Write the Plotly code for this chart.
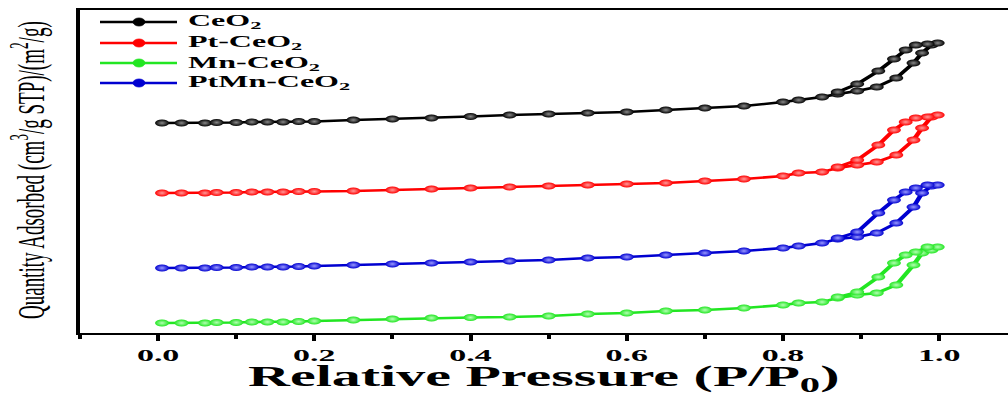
import plotly.graph_objects as go

# Relative pressure points: adsorption branch, then desorption branch
p_ads = [0.005, 0.03, 0.06, 0.075, 0.10, 0.12, 0.14, 0.16, 0.18, 0.20, 0.25, 0.30,
         0.35, 0.40, 0.45, 0.50, 0.55, 0.60, 0.65, 0.70, 0.75, 0.80, 0.82, 0.85,
         0.87, 0.895, 0.92, 0.945, 0.967, 0.978, 0.99, 0.998]
p_des = [0.985, 0.97, 0.957, 0.942, 0.922, 0.895, 0.87]

# Quantity adsorbed (curves stacked with vertical offsets, arbitrary units)
ceo2_ads = [210, 210, 210, 210.5, 210.5, 211, 211, 211, 211.5, 211.5, 213, 214,
            215, 216.5, 218, 219, 220, 221, 223, 225, 227, 231, 233, 236,
            239, 242, 246, 255, 270, 280, 288, 290]
ceo2_des = [289, 288, 283, 274, 262, 249, 241]

pt_ads = [140, 140, 140, 140.5, 140.5, 141, 141, 141, 141.5, 141.5, 142, 143,
          144, 145, 146, 147, 148, 149, 150, 152, 154, 157, 160, 161,
          165, 168, 171, 178, 193, 205, 216, 218]
pt_des = [216, 215, 211, 203, 188, 173, 166]

mn_ads = [10, 10, 10, 10.5, 10.5, 11, 11, 11, 11.5, 12, 13, 14,
          15, 15.5, 16, 17, 19, 20, 22, 23, 25, 28, 30, 31,
          35, 38, 40, 48, 68, 80, 83, 86]
mn_des = [86, 81, 78, 70, 56, 41, 36]

ptmn_ads = [65, 65, 65, 65.5, 65.5, 66, 66, 66, 66.5, 67, 68, 69,
            70, 71, 72, 73, 75, 76, 78, 80, 82, 85, 87, 90,
            94, 96, 100, 110, 126, 140, 147, 148]
ptmn_des = [148, 145, 141, 133, 120, 101, 95]

series = [
    ("CeO<sub>2</sub>", ceo2_ads, ceo2_des, "#000000", "#8a8a8a"),
    ("Pt-CeO<sub>2</sub>", pt_ads, pt_des, "#ff0000", "#ff9a9a"),
    ("Mn-CeO<sub>2</sub>", mn_ads, mn_des, "#22e622", "#b5ffb5"),
    ("PtMn-CeO<sub>2</sub>", ptmn_ads, ptmn_des, "#0000d0", "#9a9aff"),
]

SERIF = "Liberation Serif, Times New Roman, serif"

# Layout geometry (pixels of the un-widened figure)
FIG_W, FIG_H = 504, 394
M_L, M_R, M_T, M_B = 40, 0, 10, 61
PLOT_W = FIG_W - M_L - M_R
PLOT_H = FIG_H - M_T - M_B


def px_x(u):
    return (u - M_L) / PLOT_W


def px_y(v):
    return (FIG_H - M_B - v) / PLOT_H


fig = go.Figure()
for name, ads, des, col, hi in series:
    fig.add_trace(go.Scatter(
        x=p_ads + p_des,
        y=ads + des,
        mode="lines+markers",
        name=name,
        showlegend=False,
        line=dict(color=col, width=2.5),
        marker=dict(symbol="circle", size=7, color=col,
                    gradient=dict(type="radial", color=hi),
                    line=dict(width=0)),
    ))

# Legend drawn as line samples with a ball and a bold label
shapes = []
annotations = []
legend_rows = [22, 43, 63, 83]
for (name, _, _, col, hi), row in zip(series, legend_rows):
    shapes.append(dict(type="line", xref="paper", yref="paper",
                       x0=px_x(50), x1=px_x(88.5), y0=px_y(row), y1=px_y(row),
                       line=dict(color=col, width=2.5)))
    shapes.append(dict(type="circle", xref="paper", yref="paper",
                       x0=px_x(66.5), x1=px_x(72.5), y0=px_y(row + 4), y1=px_y(row - 4),
                       fillcolor=col, line=dict(color=col, width=0.5)))
    annotations.append(dict(text=name, xref="paper", yref="paper",
                            x=px_x(92), y=px_y(row), xanchor="left", yanchor="middle",
                            showarrow=False,
                            font=dict(family=SERIF, size=16, color="black", weight="bold")))

annotations += [
    dict(
        text="Quantity Adsorbed (cm<sup>3</sup>/g STP)/(m<sup>2</sup>/g)",
        xref="paper", yref="paper", x=px_x(15), y=px_y(170),
        xanchor="center", yanchor="middle", textangle=-90, showarrow=False,
        font=dict(family=SERIF, size=19, color="black"),
    ),
    dict(
        text="Relative Pressure (P/P<sub>0</sub>)",
        xref="paper", yref="paper", x=0.5, y=px_y(378),
        xanchor="center", yanchor="middle", showarrow=False,
        font=dict(family=SERIF, size=29, color="black", weight="bold"),
    ),
]

fig.update_layout(
    width=FIG_W, height=FIG_H,
    margin=dict(l=M_L, r=M_R, t=M_T, b=M_B),
    paper_bgcolor="white", plot_bgcolor="white",
    showlegend=False,
    xaxis=dict(
        range=[-0.1, 1.088], showgrid=False, zeroline=False,
        showline=True, linecolor="black", linewidth=2, mirror=True,
        ticks="outside", tick0=0, dtick=0.2, ticklen=6, tickwidth=1.5,
        tickcolor="black", tickformat=".1f",
        minor=dict(ticks="outside", dtick=0.1, ticklen=4, tickwidth=1.5, tickcolor="black"),
        tickfont=dict(family=SERIF, size=17, color="black", weight="bold"),
    ),
    yaxis=dict(
        range=[0, 323], showgrid=False, zeroline=False, showticklabels=False,
        ticks="", showline=True, linecolor="black", linewidth=1.5, mirror=False,
    ),
    shapes=shapes,
    annotations=annotations,
)

# The figure is laid out narrow and widened horizontally for display
stretch = """
var gd = document.getElementById('{plot_id}');
gd.style.transformOrigin = '0 0';
gd.style.transform = 'scale(2, 1)';
"""

fig.write_html("out.html", post_script=stretch)
